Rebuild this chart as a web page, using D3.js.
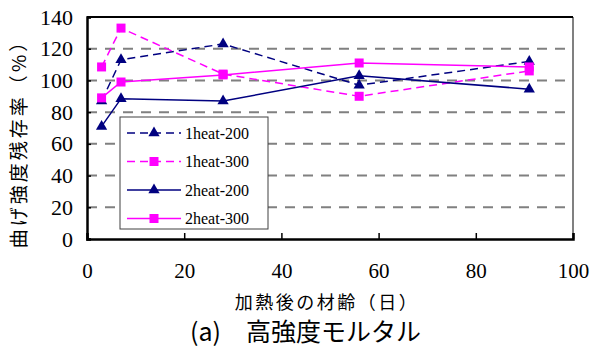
<!DOCTYPE html>
<html>
<head>
<meta charset="utf-8">
<script src="https://cdn.jsdelivr.net/npm/d3@7"></script>
<style>
  body { margin: 0; background: #fff; }
  svg { display: block; }
</style>
</head>
<body>
<svg id="chart" width="591" height="349"></svg>
<script>
  // data
  const days = [3, 7, 28, 56, 91];
  const heat1_200 = [87, 113, 123, 97, 112];
  const heat1_300 = [108.5, 133, 104, 90, 106];
  const heat2_200 = [71, 88.5, 87, 103, 94.5];
  const heat2_300 = [89, 99, 103.5, 111, 108.5];
  const seriesNames = ["1heat-200", "1heat-300", "2heat-200", "2heat-300"];
  const xTicks = [0, 20, 40, 60, 80, 100];
  const yTicks = [0, 20, 40, 60, 80, 100, 120, 140];

  const NAVY = "#000080", MAGENTA = "#ff00ff";
  const series = [
    { name: seriesNames[0], vals: heat1_200, color: NAVY, dash: "8,5", marker: "tri" },
    { name: seriesNames[1], vals: heat1_300, color: MAGENTA, dash: "8,5", marker: "sq" },
    { name: seriesNames[2], vals: heat2_200, color: NAVY, dash: null, marker: "tri" },
    { name: seriesNames[3], vals: heat2_300, color: MAGENTA, dash: null, marker: "sq" }
  ];

  const svg = d3.select("#chart");
  const plotL = 87, plotR = 573, plotT = 17, plotB = 239;

  const x = d3.scaleLinear().domain([0, 100]).range([plotL, plotR]);
  const y = d3.scaleLinear().domain([0, 140]).range([plotB, plotT]);

  const serif = "'Liberation Serif', 'Times New Roman', serif";
  const gothic = "'Noto Sans CJK JP', 'Noto Sans', sans-serif";

  // gridlines
  svg.append("g").selectAll("line")
    .data(yTicks.filter(t => t > 0 && t < 140))
    .join("line")
    .attr("x1", plotL).attr("x2", plotR)
    .attr("y1", d => y(d)).attr("y2", d => y(d))
    .attr("stroke", "#808080").attr("stroke-width", 2)
    .attr("stroke-dasharray", "10,8");

  // frame
  svg.append("line").attr("x1", plotR).attr("x2", plotR).attr("y1", plotT).attr("y2", plotB)
    .attr("stroke", "#808080").attr("stroke-width", 2);
  svg.append("line").attr("x1", plotL).attr("x2", plotR).attr("y1", plotT).attr("y2", plotT)
    .attr("stroke", "#000").attr("stroke-width", 2);

  // axes
  const xAxis = svg.append("g").attr("transform", `translate(0,${plotB})`)
    .call(d3.axisBottom(x).tickValues(xTicks).tickSize(-6).tickFormat(d3.format("d")));
  xAxis.select(".domain").attr("stroke-width", 2.5);
  xAxis.selectAll("line").attr("stroke-width", 1.5);
  xAxis.selectAll("text").style("font-family", serif).style("font-size", "21px").attr("fill", "#000")
    .attr("dy", "0.71em").attr("y", 24);

  const yAxis = svg.append("g").attr("transform", `translate(${plotL},0)`)
    .call(d3.axisLeft(y).tickValues(yTicks).tickSize(-4).tickPadding(14).tickFormat(d3.format("d")));
  yAxis.select(".domain").attr("stroke-width", 2.5);
  yAxis.selectAll("line").attr("stroke-width", 1.5);
  yAxis.selectAll("text").style("font-family", serif).style("font-size", "22px").attr("fill", "#000");

  const triangle = d3.symbol().type(d3.symbolTriangle).size(55);

  function drawMarker(g, type, color, cx, cy) {
    if (type === "tri") {
      g.append("path").attr("d", triangle()).attr("transform", `translate(${cx},${cy})`)
        .attr("fill", color);
    } else {
      g.append("rect").attr("x", cx - 4.5).attr("y", cy - 4.5).attr("width", 9).attr("height", 9)
        .attr("fill", color);
    }
  }

  const line = d3.line().x(d => x(d[0])).y(d => y(d[1]));

  series.forEach(s => {
    const pts = days.map((d, i) => [d, s.vals[i]]);
    const g = svg.append("g");
    g.append("path").datum(pts).attr("d", line)
      .attr("fill", "none").attr("stroke", s.color).attr("stroke-width", 1.5)
      .attr("stroke-dasharray", s.dash);
    pts.forEach(p => drawMarker(g, s.marker, s.color, x(p[0]), y(p[1])));
  });

  // legend
  const lg = svg.append("g");
  lg.append("rect").attr("x", 120).attr("y", 117).attr("width", 148).attr("height", 112)
    .attr("fill", "#fff").attr("stroke", "#404040").attr("stroke-width", 1);
  series.forEach((s, i) => {
    const ly = 133 + i * 28.5;
    lg.append("line").attr("x1", 127).attr("x2", 181).attr("y1", ly).attr("y2", ly)
      .attr("stroke", s.color).attr("stroke-width", 1.5).attr("stroke-dasharray", s.dash);
    drawMarker(lg, s.marker, s.color, 154, ly);
    lg.append("text").attr("x", 185).attr("y", ly).attr("dy", "0.35em")
      .style("font-family", serif).style("font-size", "16px").text(s.name);
  });

  // titles
  svg.append("text").attr("transform", "translate(26,139) rotate(-90)")
    .attr("text-anchor", "middle").attr("font-family", gothic).attr("font-size", 19)
    .attr("letter-spacing", 3).text("曲げ強度残存率（%）");

  svg.append("text").attr("x", 327).attr("y", 309).attr("text-anchor", "middle")
    .attr("font-family", gothic).attr("font-size", 18).attr("letter-spacing", 2.5)
    .text("加熱後の材齢（日）");

  svg.append("text").attr("x", 190).attr("y", 341)
    .attr("font-family", gothic).attr("font-size", 25)
    .text("(a)　高強度モルタル");
</script>
</body>
</html>
